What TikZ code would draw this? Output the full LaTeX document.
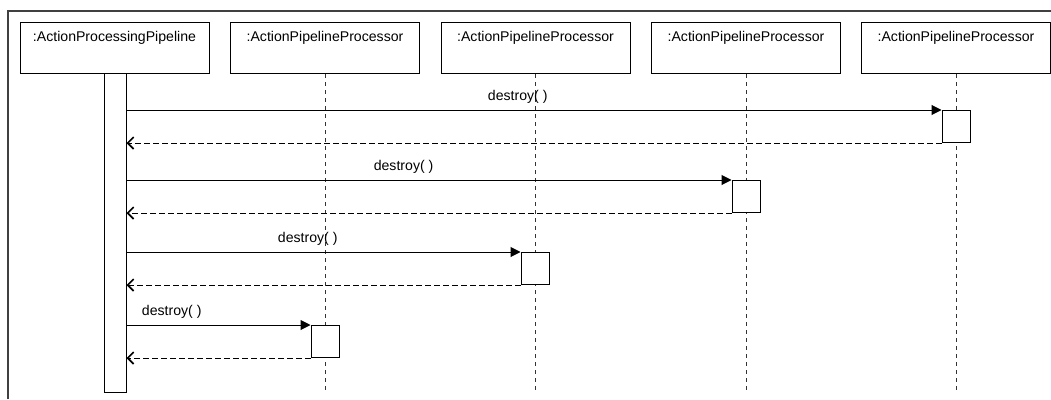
\documentclass[tikz,border=0pt]{standalone}
\usepackage{fontspec}
\setmainfont{Liberation Sans}
\usetikzlibrary{arrows.meta,calc}
\begin{document}
\begin{tikzpicture}[x=1pt,y=-1pt,
  every node/.style={font=\fontsize{14.1}{17}\selectfont},
  objbox/.style={draw=black, line width=1pt, rectangle, inner sep=0pt,
    minimum width=189pt, text height=19pt, text depth=32pt, anchor=north},
  actbox/.style={draw=black, line width=1pt, fill=white, rectangle, inner sep=0pt,
    minimum width=28pt, minimum height=32pt, anchor=north},
  lifeline/.style={draw=black!80, line width=1pt, dash pattern=on 4pt off 4pt},
  msg/.style={draw=black, line width=1pt, -{Triangle[length=10pt,width=10pt]}},
  ret/.style={draw=black, line width=1pt, dash pattern=on 5.5pt off 3.5pt, -{Straight Barb[length=6pt,width=12pt,line width=1.6pt]}},
  msglabel/.style={above=6pt, inner sep=0pt}
]
\useasboundingbox (0,0) rectangle (1051,399);
% frame
\draw[line width=2pt, black!75] (8,399) -- (8,10.5) -- (1051,10.5);
% objects
\node[objbox] (o1) at (114.5,22) {:ActionProcessingPipeline};
\node[objbox] (o2) at (325,22) {:ActionPipelineProcessor};
\node[objbox] (o3) at (535.5,22) {:ActionPipelineProcessor};
\node[objbox] (o4) at (746,22) {:ActionPipelineProcessor};
\node[objbox] (o5) at (956,22) {:ActionPipelineProcessor};
% lifelines
\coordinate (e2) at (325,392);
\coordinate (e3) at (535.5,392);
\coordinate (e4) at (746,392);
\coordinate (e5) at (956,392);
\draw[lifeline] (o2.south) -- (e2);
\draw[lifeline] (o3.south) -- (e3);
\draw[lifeline] (o4.south) -- (e4);
\draw[lifeline] (o5.south) -- (e5);
% main activation bar
\node[draw=black, line width=1pt, fill=white, inner sep=0pt, minimum width=22pt,
  minimum height=319pt, anchor=north] (bar) at (115,73) {};
% activations
\node[actbox] (a1) at (956,110) {};
\node[actbox] (a2) at (746,180) {};
\node[actbox] (a3) at (535,252) {};
\node[actbox] (a4) at (325,325) {};
% messages
\draw[msg] (bar.east |- a1.north west) -- node[msglabel, pos=0.48] {destroy( )} (a1.north west);
\draw[ret] (a1.south west) -- (bar.east |- a1.south west);
\draw[msg] (bar.east |- a2.north west) -- node[msglabel, pos=0.458] {destroy( )} (a2.north west);
\draw[ret] (a2.south west) -- (bar.east |- a2.south west);
\draw[msg] (bar.east |- a3.north west) -- node[msglabel, pos=0.46] {destroy( )} (a3.north west);
\draw[ret] (a3.south west) -- (bar.east |- a3.south west);
\draw[msg] (bar.east |- a4.north west) -- node[msglabel, pos=0.246] {destroy( )} (a4.north west);
\draw[ret] (a4.south west) -- (bar.east |- a4.south west);
\end{tikzpicture}
\end{document}
